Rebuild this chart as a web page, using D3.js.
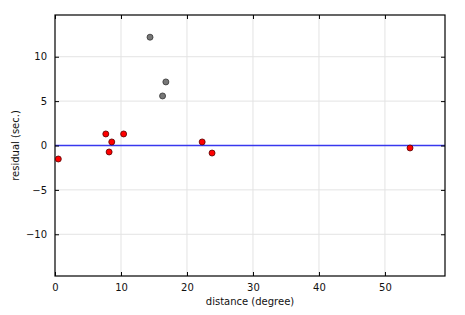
<!DOCTYPE html>
<html><head><meta charset="utf-8">
<script src="https://cdn.jsdelivr.net/npm/d3@7"></script>
<style>body{margin:0;background:#fff}svg{display:block}text{font-family:"DejaVu Sans",sans-serif}</style>
</head><body><svg id="c" width="465" height="315"></svg>
<script>
const usedX = [0.5, 7.7, 8.2, 8.6, 10.4, 22.3, 23.8, 53.8];
const usedY = [-1.52, 1.3, -0.73, 0.4, 1.3, 0.4, -0.85, -0.28];
const rejX = [14.4, 16.8, 16.3];
const rejY = [12.2, 7.16, 5.58];
const xTicks = [0, 10, 20, 30, 40, 50];
const yTicks = [-10, -5, 0, 5, 10];

const svg = d3.select("#c");
const L = 55, R = 445, T = 15, B = 276;
const x = d3.scaleLinear().domain([0, 59.1]).range([L, R]);
const y = d3.scaleLinear().domain([-14.7, 14.7]).range([B, T]);
const fmt = d => d < 0 ? "\u2212" + Math.abs(d) : String(d);

// grid
svg.append("g").selectAll("line").data(xTicks.slice(1)).join("line")
  .attr("x1", d => x(d)).attr("x2", d => x(d)).attr("y1", T).attr("y2", B)
  .attr("stroke", "#e3e3e3").attr("stroke-width", 1);
svg.append("g").selectAll("line").data(yTicks).join("line")
  .attr("y1", d => y(d)).attr("y2", d => y(d)).attr("x1", L).attr("x2", R)
  .attr("stroke", "#e3e3e3").attr("stroke-width", 1);

// zero line
svg.append("line").attr("x1", L).attr("x2", R).attr("y1", y(0)).attr("y2", y(0))
  .attr("stroke", "#3838ee").attr("stroke-width", 1.5);

// axes (inward ticks)
const ax = (g, a) => g.call(a).call(s => s.select(".domain").remove());
ax(svg.append("g").attr("transform", `translate(0,${B})`),
   d3.axisBottom(x).tickValues(xTicks).tickSize(-4).tickPadding(8).tickFormat(fmt));
ax(svg.append("g").attr("transform", `translate(0,${T})`),
   d3.axisTop(x).tickValues(xTicks).tickSize(-4).tickFormat(""));
ax(svg.append("g").attr("transform", `translate(${L},0)`),
   d3.axisLeft(y).tickValues(yTicks).tickSize(-4).tickPadding(8).tickFormat(fmt));
ax(svg.append("g").attr("transform", `translate(${R},0)`),
   d3.axisRight(y).tickValues(yTicks).tickSize(-4).tickFormat(""));
svg.selectAll(".tick text").attr("font-size", 10).attr("font-family", "DejaVu Sans").attr("fill", "#111");
svg.selectAll(".tick line").attr("stroke", "#000");

// frame
svg.append("rect").attr("x", L).attr("y", T).attr("width", R - L).attr("height", B - T)
  .attr("fill", "none").attr("stroke", "#000").attr("stroke-width", 1.2);

// points
svg.append("g").selectAll("circle").data(rejX.map((v, i) => [v, rejY[i]])).join("circle")
  .attr("cx", d => x(d[0])).attr("cy", d => y(d[1])).attr("r", 3)
  .attr("fill", "#777777").attr("stroke", "#333").attr("stroke-width", 0.8);
svg.append("g").selectAll("circle").data(usedX.map((v, i) => [v, usedY[i]])).join("circle")
  .attr("cx", d => x(d[0])).attr("cy", d => y(d[1])).attr("r", 3)
  .attr("fill", "#ff0000").attr("stroke", "#550000").attr("stroke-width", 0.8);

// labels
svg.append("text").attr("x", (L + R) / 2).attr("y", 305).attr("text-anchor", "middle")
  .attr("font-size", 10).attr("fill", "#111").text("distance (degree)");
svg.append("text").attr("transform", `translate(19,${(T + B) / 2}) rotate(-90)`)
  .attr("text-anchor", "middle").attr("font-size", 10).attr("fill", "#111").text("residual (sec.)");
</script></body></html>
